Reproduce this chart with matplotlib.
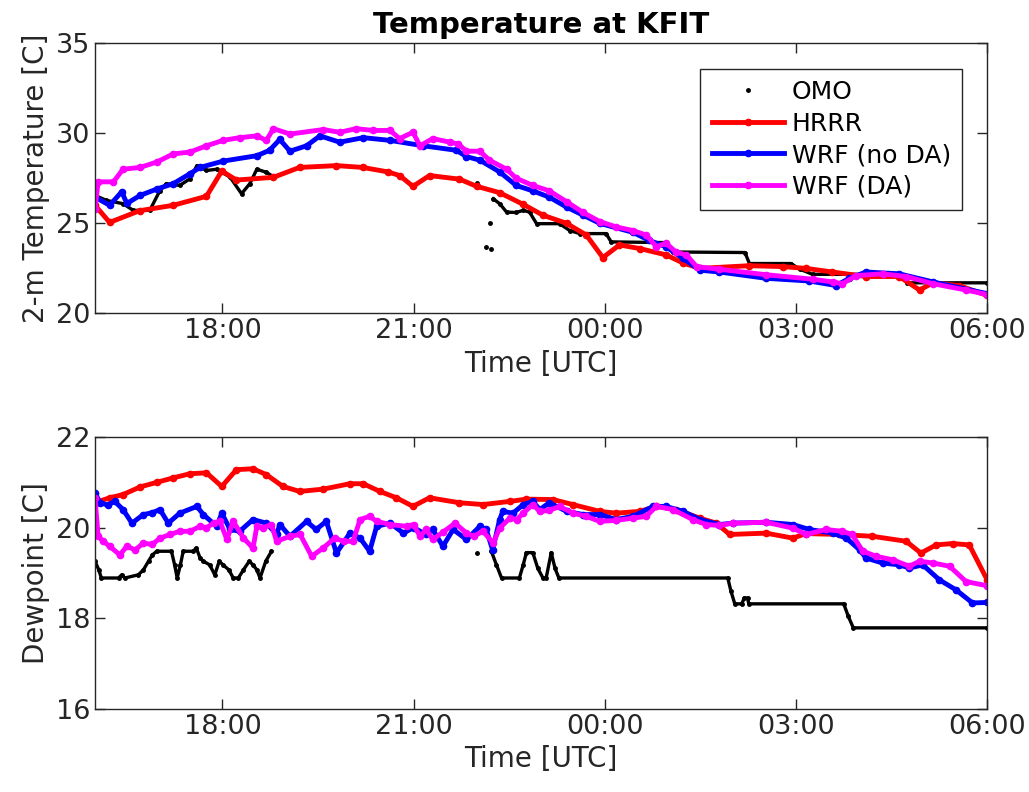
import numpy as np
import matplotlib
matplotlib.use("Agg")
import matplotlib.pyplot as plt

nan = np.nan

# time axis: hours after 16:00 UTC
tick_hours = [2, 5, 8, 11, 14]
tick_labels = ["18:00", "21:00", "00:00", "03:00", "06:00"]

# ---- 2-m temperature [C] ----
omo_t_top = [0, 0.18, 0.44, 0.6, 0.86, 1.02, 1.12, 1.33, 1.49, 1.6, 1.75, 1.91, 2.12, 2.3, 2.43,
             2.54, 2.69, 2.77, nan, 6.0, nan, 6.13, nan, 6.2, nan, 6.22, nan, 6.25, 6.35, 6.46,
             6.61, 6.72, 6.82, 6.93, 7.29, 7.45, 7.61, 8.02, 8.1, 8.96, 9.07, 10.2, 10.27, 10.92,
             11.06, 11.26, 12.62, 12.75, 14.0]
omo_temp = [26.55, 26.27, 26.09, 25.72, 25.72, 26.82, 27.2, 27.1, 27.47, 28.2, 27.93, 28.0, 27.56,
            26.64, 27.2, 28.0, 27.83, 27.65, nan, 27.24, nan, 23.66, nan, 25.02, nan, 23.55, nan,
            26.36, 26.09, 25.62, 25.6, 25.72, 25.62, 24.98, 24.98, 24.6, 24.43, 24.43, 23.97, 23.93,
            23.41, 23.38, 22.77, 22.77, 22.46, 22.17, 22.17, 21.7, 21.7]

hrrr_t_top = [0, 0.23, 0.7, 1.23, 1.75, 1.99, 2.22, 2.8, 3.21, 3.79, 4.2, 4.6, 4.78, 4.99, 5.25,
              5.72, 5.99, 6.35, 6.72, 7.03, 7.4, 7.71, 7.97, 8.23, 8.55, 8.96, 9.23, 9.49, 10.27,
              10.79, 11.16, 11.57, 12.1, 12.62, 12.94, 13.15, 13.56, 14.0]
hrrr_temp = [26.0, 25.05, 25.7, 26.0, 26.5, 27.9, 27.4, 27.55, 28.1, 28.2, 28.1, 27.85, 27.65, 27.05,
             27.65, 27.45, 27.05, 26.7, 26.05, 25.45, 25.0, 24.35, 23.1, 23.8, 23.6, 23.25, 22.8,
             22.5, 22.65, 22.6, 22.5, 22.3, 22.05, 22.05, 21.3, 21.7, 21.55, 21.0]

wrf_t_top = [0, 0.23, 0.42, 0.5, 0.71, 0.97, 1.23, 1.49, 1.65, 2.01, 2.54, 2.74, 2.9, 3.06, 3.32,
             3.53, 3.84, 4.21, 4.63, 5.15, 5.67, 5.83, 6.04, 6.35, 6.61, 6.87, 7.13, 7.4, 7.66,
             7.92, 8.44, 8.7, 8.96, 9.23, 9.49, 9.8, 10.53, 11.21, 11.63, 11.84, 12.1, 12.62,
             13.15, 14.0]
wrf_temp = [26.45, 26.0, 26.75, 26.1, 26.55, 26.9, 27.2, 27.75, 28.1, 28.45, 28.75, 29.05, 29.65,
            29.0, 29.3, 29.85, 29.5, 29.75, 29.6, 29.3, 29.05, 28.7, 28.5, 27.85, 27.1, 26.8, 26.45,
            25.9, 25.45, 25.0, 24.5, 24.05, 23.7, 23.05, 22.4, 22.3, 21.95, 21.8, 21.55, 21.95,
            22.3, 22.2, 21.75, 21.1]

da_t_top = [0, 0.05, 0.29, 0.44, 0.71, 0.97, 1.23, 1.49, 1.75, 2.01, 2.27, 2.54, 2.69, 2.8, 3.06,
            3.58, 3.84, 4.1, 4.37, 4.63, 4.78, 4.99, 5.1, 5.3, 5.57, 5.7, 5.83, 6.04, 6.19, 6.46,
            6.61, 6.87, 7.13, 7.4, 7.66, 7.92, 8.18, 8.44, 8.65, 8.81, 8.96, 9.12, 9.28, 9.44, 9.8,
            10.53, 11.26, 11.58, 11.73, 11.94, 12.36, 12.73, 13.15, 13.67, 14.0]
da_temp = [25.8, 27.3, 27.3, 28.0, 28.1, 28.4, 28.85, 28.95, 29.3, 29.6, 29.75, 29.85, 29.6, 30.25,
           29.95, 30.2, 30.05, 30.25, 30.15, 30.15, 29.7, 30.05, 29.3, 29.7, 29.5, 29.4, 29.0, 29.0,
           28.5, 28.0, 27.5, 27.1, 26.8, 26.2, 25.6, 25.1, 24.8, 24.6, 24.35, 23.7, 23.9, 23.4,
           23.25, 22.6, 22.45, 22.15, 21.9, 21.75, 21.65, 22.1, 22.2, 22.05, 21.65, 21.3, 21.05]

# ---- dewpoint [C] ----
omo_t_bot = [0, 0.06, 0.1, 0.37, 0.42, 0.47, 0.68, 0.76, 0.84, 0.9, 0.97, 1.2, 1.25, 1.29, 1.34,
             1.385, 1.54, 1.59, 1.65, 1.7, 1.8, 1.88, 1.95, 2.01, 2.1, 2.17, 2.25, 2.33, 2.42, 2.48,
             2.54, 2.59, 2.68, 2.77, nan, 6.0, nan, 6.22, 6.3, 6.38, 6.66, 6.72, 6.77, 6.87, 6.95,
             7.03, 7.08, 7.16, 7.22, 7.28, 9.93, 9.98, 10.04, 10.15, 10.19, 10.24, 10.26, 11.75,
             11.82, 11.9, 14.0]
omo_dew = [19.26, 19.07, 18.89, 18.89, 18.96, 18.89, 18.96, 19.07, 19.26, 19.4, 19.48, 19.48, 19.18,
           18.89, 19.18, 19.48, 19.48, 19.55, 19.33, 19.26, 19.18, 18.96, 19.26, 19.18, 19.07,
           18.89, 18.89, 19.07, 19.26, 19.18, 19.07, 18.89, 19.26, 19.48, nan, 19.45, nan, 19.48,
           19.18, 18.89, 18.89, 19.18, 19.45, 19.45, 19.1, 18.89, 18.89, 19.45, 19.1, 18.89, 18.89,
           18.6, 18.32, 18.32, 18.45, 18.45, 18.32, 18.32, 18.05, 17.79, 17.79]

hrrr_t_bot = [0, 0.23, 0.44, 0.71, 0.97, 1.23, 1.49, 1.75, 1.99, 2.22, 2.48, 2.69, 2.95, 3.21, 3.58,
              4.0, 4.21, 4.47, 4.73, 4.99, 5.25, 5.72, 6.09, 6.51, 6.77, 7.19, 7.5, 7.92, 8.18,
              8.55, 8.81, 9.12, 9.49, 9.75, 9.96, 10.53, 10.95, 11.16, 11.68, 12.2, 12.73, 12.96,
              13.2, 13.46, 13.72, 14.0]
hrrr_dew = [20.55, 20.66, 20.73, 20.9, 21.0, 21.1, 21.19, 21.21, 20.91, 21.28, 21.3, 21.17, 20.91,
            20.8, 20.85, 20.97, 20.97, 20.8, 20.66, 20.47, 20.66, 20.55, 20.51, 20.58, 20.63, 20.62,
            20.51, 20.36, 20.32, 20.36, 20.47, 20.4, 20.21, 20.1, 19.85, 19.88, 19.77, 19.87, 19.85,
            19.81, 19.7, 19.44, 19.62, 19.65, 19.62, 18.85]

wrf_t_bot = [0, 0.08, 0.2, 0.31, 0.44, 0.58, 0.76, 0.9, 1.02, 1.15, 1.33, 1.6, 1.7, 1.91, 1.99,
             2.12, 2.27, 2.48, 2.69, 2.85, 2.9, 3.06, 3.32, 3.47, 3.63, 3.79, 4.0, 4.16, 4.31, 4.42,
             4.63, 4.84, 5.0, 5.2, 5.3, 5.46, 5.62, 5.83, 6.04, 6.14, 6.24, 6.35, 6.4, 6.56, 6.72,
             6.87, 6.98, 7.13, 7.4, 7.66, 7.92, 8.18, 8.44, 8.76, 8.96, 9.23, 9.49, 9.8, 10.01,
             10.53, 10.95, 11.21, 11.58, 11.79, 12.0, 12.1, 12.36, 12.62, 12.78, 12.99, 13.25,
             13.51, 13.77, 14.0]
wrf_dew = [20.77, 20.55, 20.5, 20.58, 20.4, 20.1, 20.29, 20.33, 20.4, 20.1, 20.32, 20.47, 20.29,
           20.03, 20.32, 19.96, 19.92, 20.18, 20.1, 19.85, 20.07, 19.81, 20.14, 19.96, 20.14, 19.44,
           19.88, 19.77, 19.48, 20.03, 20.1, 19.88, 20.0, 19.85, 19.96, 19.59, 19.96, 19.74, 20.03,
           19.96, 19.51, 20.18, 20.36, 20.32, 20.51, 20.58, 20.4, 20.55, 20.36, 20.29, 20.29, 20.18,
           20.25, 20.47, 20.47, 20.36, 20.18, 20.07, 20.1, 20.12, 20.07, 19.96, 19.88, 19.77, 19.51,
           19.33, 19.22, 19.18, 19.11, 19.18, 18.85, 18.63, 18.34, 18.35]

da_t_bot = [0, 0.05, 0.13, 0.23, 0.39, 0.5, 0.63, 0.76, 0.9, 1.02, 1.18, 1.33, 1.49, 1.65, 1.75,
            1.86, 1.96, 2.07, 2.17, 2.33, 2.48, 2.54, 2.64, 2.77, 2.85, 3.06, 3.22, 3.4, 3.58, 3.76,
            3.9, 4.05, 4.16, 4.31, 4.42, 4.63, 4.89, 5.0, 5.1, 5.2, 5.3, 5.46, 5.65, 5.83, 5.94,
            6.09, 6.25, 6.35, 6.51, 6.62, 6.72, 6.87, 6.98, 7.13, 7.29, 7.5, 7.71, 7.92, 8.18, 8.44,
            8.65, 8.81, 9.07, 9.38, 9.59, 9.8, 10.01, 10.53, 10.95, 11.16, 11.47, 11.73, 11.88,
            12.05, 12.26, 12.52, 12.78, 12.94, 13.15, 13.41, 13.67, 14.0]
da_dew = [20.66, 19.81, 19.7, 19.59, 19.4, 19.59, 19.51, 19.66, 19.63, 19.77, 19.85, 19.92, 19.92,
          20.03, 20.0, 20.1, 20.14, 19.74, 20.14, 19.77, 19.55, 20.03, 20.0, 20.07, 19.7, 19.81,
          19.85, 19.37, 19.55, 19.77, 19.7, 19.7, 20.18, 20.25, 20.14, 20.07, 20.03, 20.07, 19.81,
          19.96, 19.74, 19.9, 20.1, 19.88, 19.81, 19.92, 19.66, 19.99, 20.21, 20.18, 20.32, 20.51,
          20.36, 20.38, 20.47, 20.32, 20.25, 20.14, 20.16, 20.21, 20.25, 20.47, 20.4, 20.18, 20.07,
          20.05, 20.1, 20.12, 19.99, 19.85, 19.96, 19.92, 19.85, 19.48, 19.37, 19.29, 19.15, 19.26,
          19.22, 19.15, 18.81, 18.72]

gray = (0.15, 0.15, 0.15)
magenta = '#ff00ff'
plt.rcParams['font.family'] = ['DejaVu Sans']
plt.rcParams['font.size'] = 19.5

fig = plt.figure(figsize=(10.29, 7.92), dpi=100)
ax1 = fig.add_axes([0.0923, 0.6042, 0.8670, 0.3415])
ax2 = fig.add_axes([0.0923, 0.1048, 0.8670, 0.3434])


def draw(ax, omo, hrrr, wrf, da):
    # OMO: connecting line for the continuous runs, dots for the legend
    ax.plot(omo[0], omo[1], color='k', lw=2.4)
    ax.plot(omo[0], omo[1], '.', color='k', ms=5, label='OMO')
    ax.plot(hrrr[0], hrrr[1], '.-', color='r', lw=3.5, ms=9, label='HRRR')
    ax.plot(wrf[0], wrf[1], '.-', color='b', lw=3.5, ms=9, label='WRF (no DA)')
    ax.plot(da[0], da[1], '.-', color=magenta, lw=3.5, ms=9, label='WRF (DA)')
    ax.set_xlim(0, 14)
    ax.set_xticks(tick_hours)
    ax.set_xticklabels(tick_labels)
    ax.set_xlabel('Time [UTC]', color=gray, fontsize=20)
    ax.tick_params(direction='in', length=7, width=1, colors=gray, top=True, right=True,
                   labelcolor=gray)
    for s in ax.spines.values():
        s.set_color(gray)
        s.set_linewidth(1)


draw(ax1, (omo_t_top, omo_temp), (hrrr_t_top, hrrr_temp), (wrf_t_top, wrf_temp), (da_t_top, da_temp))
ax1.set_ylim(20, 35)
ax1.set_yticks([20, 25, 30, 35])
ax1.set_ylabel('2-m Temperature [C]', color=gray, fontsize=20)
ax1.set_title('Temperature at KFIT', fontweight='bold', fontsize=21, pad=7)
leg = ax1.legend(loc='upper right', bbox_to_anchor=(0.972, 0.904), borderaxespad=0,
                 fancybox=False, edgecolor=gray, framealpha=1, fontsize=18,
                 handlelength=2.9, handletextpad=0.3, labelspacing=0.3, borderpad=0.45)
leg.get_frame().set_linewidth(1)

draw(ax2, (omo_t_bot, omo_dew), (hrrr_t_bot, hrrr_dew), (wrf_t_bot, wrf_dew), (da_t_bot, da_dew))
ax2.set_ylim(16, 22)
ax2.set_yticks([16, 18, 20, 22])
ax2.set_ylabel('Dewpoint [C]', color=gray, fontsize=20)

fig.savefig('out.png', dpi=100)
